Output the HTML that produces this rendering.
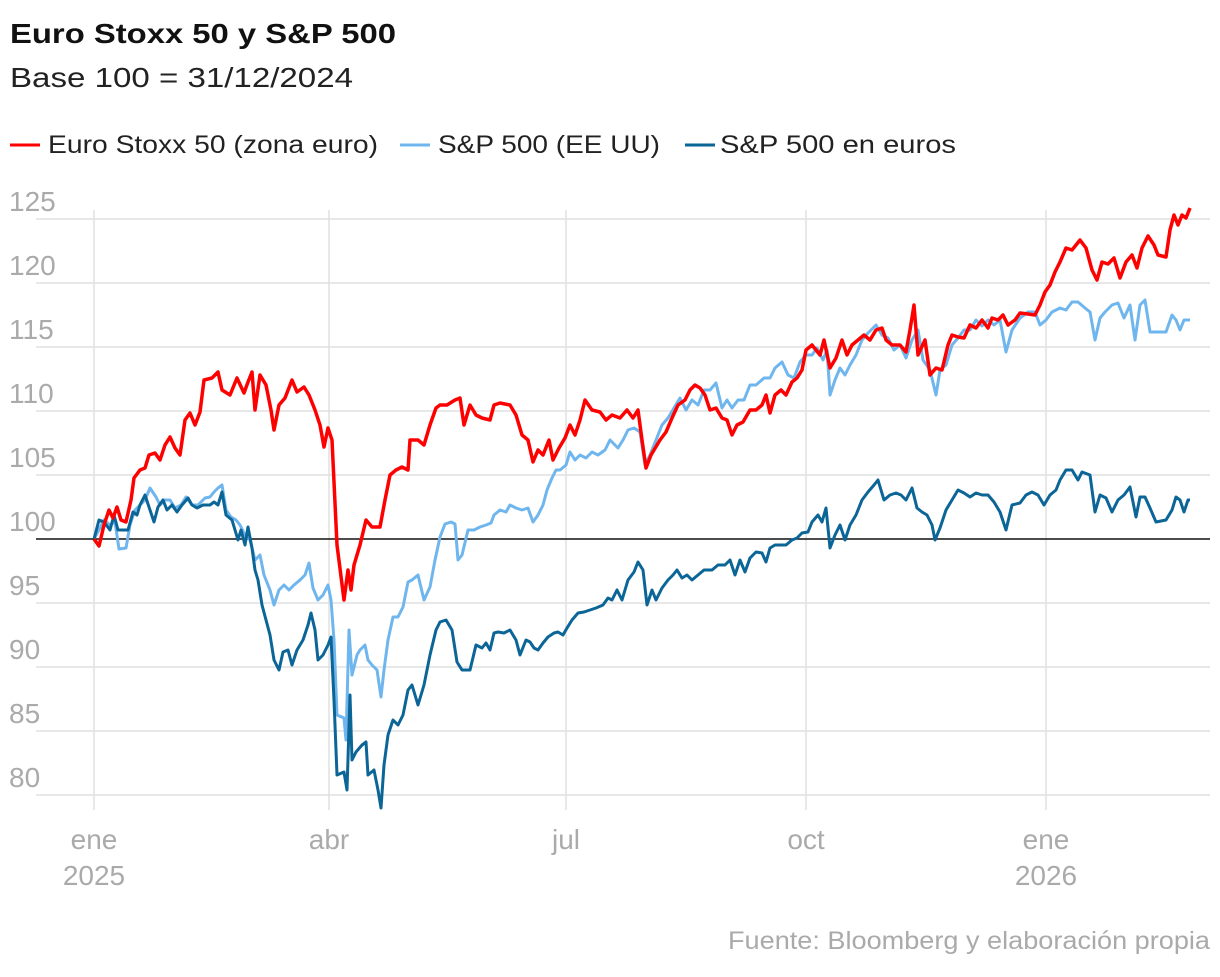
<!DOCTYPE html>
<html><head><meta charset="utf-8"><style>
body{margin:0;background:#fff;width:1220px;height:972px;overflow:hidden;font-family:"Liberation Sans",sans-serif}
</style></head><body>
<svg width="1220" height="972" xmlns="http://www.w3.org/2000/svg" font-family="Liberation Sans, sans-serif">
<text x="10" y="43" font-size="28" font-weight="bold" fill="#111" textLength="386" lengthAdjust="spacingAndGlyphs">Euro Stoxx 50 y S&amp;P 500</text>
<text x="10" y="87" font-size="28" fill="#222" textLength="343" lengthAdjust="spacingAndGlyphs">Base 100 = 31/12/2024</text>
<g font-size="25" fill="#222">
<line x1="10" y1="145" x2="40" y2="145" stroke="#ff0000" stroke-width="3"/><text x="48" y="153" textLength="330" lengthAdjust="spacingAndGlyphs">Euro Stoxx 50 (zona euro)</text>
<line x1="400" y1="145" x2="430" y2="145" stroke="#6fb6ee" stroke-width="3"/><text x="438" y="153" textLength="222" lengthAdjust="spacingAndGlyphs">S&amp;P 500 (EE UU)</text>
<line x1="685" y1="145" x2="715" y2="145" stroke="#0b6597" stroke-width="3"/><text x="720" y="153" textLength="236" lengthAdjust="spacingAndGlyphs">S&amp;P 500 en euros</text>
</g>
<g stroke="#e0e0e0" stroke-width="1.5">
<line x1="36" y1="219" x2="1210" y2="219"/><line x1="36" y1="283" x2="1210" y2="283"/><line x1="36" y1="347" x2="1210" y2="347"/><line x1="36" y1="411" x2="1210" y2="411"/><line x1="36" y1="475" x2="1210" y2="475"/><line x1="36" y1="603" x2="1210" y2="603"/><line x1="36" y1="667" x2="1210" y2="667"/><line x1="36" y1="731" x2="1210" y2="731"/><line x1="36" y1="795" x2="1210" y2="795"/>
<line x1="94" y1="210" x2="94" y2="810"/><line x1="329" y1="210" x2="329" y2="810"/><line x1="566" y1="210" x2="566" y2="810"/><line x1="806" y1="210" x2="806" y2="810"/><line x1="1046" y1="210" x2="1046" y2="810"/>
</g>
<g font-size="28" fill="#aaa">
<text x="9" y="211">125</text><text x="9" y="275">120</text><text x="9" y="339">115</text><text x="9" y="403">110</text><text x="9" y="467">105</text><text x="9" y="531">100</text><text x="9" y="595">95</text><text x="9" y="659">90</text><text x="9" y="723">85</text><text x="9" y="787">80</text>
</g>
<g font-size="28" fill="#aaa" text-anchor="middle">
<text x="94" y="849">ene</text><text x="94" y="885">2025</text><text x="329" y="849">abr</text><text x="566" y="849">jul</text><text x="806" y="849">oct</text><text x="1046" y="849">ene</text><text x="1046" y="885">2026</text>
</g>
<line x1="36" y1="539" x2="1210" y2="539" stroke="#111" stroke-width="1.5"/>
<g fill="none" stroke-width="3" stroke-linejoin="round">
<polyline stroke="#6fb6ee" points="94,539 99,530 104,520 110,525 115,522 119,549 126,548 130,525 135,510 140,505 145,500 150,488 156,497 160,505 165,500 170,500 175,508 181,505 186,497 192,505 198,505 205,498 210,497 214,492 218,488 222,485 226,510 231,517 236,520 240,525 245,535 250,540 255,560 260,555 264,575 270,590 274,605 279,590 284,585 289,590 294,585 300,580 305,575 309,563 313,588 318,600 323,595 328,585 331,600 334,640 337,715 344,718 346,740 349,630 352,675 357,655 360,650 365,645 368,660 372,665 377,670 381,697 384,670 388,640 393,617 398,617 403,607 408,582 412,580 418,575 424,600 430,587 435,560 440,537 445,524 451,522 455,524 458,560 462,555 468,530 474,530 480,527 486,525 491,523 494,515 500,510 506,512 510,505 516,508 522,510 528,508 533,522 538,515 543,505 547,490 552,478 556,470 560,470 566,465 570,452 575,460 580,455 586,458 592,452 598,455 605,450 610,440 618,448 623,440 628,430 634,428 640,432 645,465 650,455 656,440 662,425 668,418 674,408 680,398 686,410 692,400 698,405 704,390 710,390 716,383 722,408 727,400 732,408 738,400 744,400 750,385 756,385 764,378 770,378 775,368 782,362 788,375 794,378 800,362 806,355 812,355 817,348 823,360 827,350 830,395 835,380 840,368 845,375 850,365 856,355 862,340 868,333 876,325 882,335 888,338 894,350 900,345 906,358 912,340 918,330 923,360 930,370 936,395 940,370 946,365 952,345 958,338 964,330 970,330 976,320 982,326 988,320 994,325 1000,320 1006,352 1012,330 1020,318 1028,312 1035,312 1040,325 1046,320 1052,312 1060,308 1066,310 1072,302 1078,302 1085,308 1090,312 1095,340 1100,318 1105,312 1112,305 1118,303 1124,318 1130,305 1135,340 1140,305 1145,300 1150,332 1160,332 1166,332 1172,315 1176,320 1180,330 1184,320 1190,320"/>
<polyline stroke="#0b6597" points="94,539 99,520 104,522 110,530 114,515 118,530 123,530 128,530 133,512 137,515 140,505 145,495 150,510 154,522 158,507 163,500 167,510 172,505 177,512 182,505 188,498 192,505 197,508 203,505 210,505 214,502 218,505 222,492 226,515 232,520 238,540 241,530 245,545 248,527 252,548 255,570 258,580 262,605 266,620 270,635 274,660 279,670 283,652 288,650 292,665 297,650 303,640 308,625 311,613 315,630 318,660 323,655 328,645 331,637 334,700 337,775 344,772 347,790 350,695 352,760 356,752 362,745 366,742 368,775 374,770 378,790 381,808 384,765 388,735 393,720 398,725 403,715 408,690 412,685 418,705 424,685 430,655 436,630 440,622 446,620 452,630 457,662 462,670 470,670 476,645 482,648 486,643 490,650 494,633 498,632 504,633 510,630 516,640 520,655 526,640 530,642 534,648 538,650 543,643 548,637 554,633 558,632 563,635 567,628 572,620 578,613 584,612 590,610 596,608 603,605 608,598 612,600 617,590 622,600 628,580 634,572 638,562 643,570 647,605 652,590 656,600 662,588 668,580 673,575 677,570 682,578 687,575 692,580 698,575 704,570 712,570 718,565 725,565 730,560 735,575 740,560 745,572 750,558 756,552 762,553 766,562 770,548 775,545 780,545 786,545 792,540 797,538 802,533 808,532 812,522 818,515 822,522 826,508 830,548 835,535 840,525 845,540 850,525 856,515 862,500 868,492 874,485 878,480 884,500 890,495 896,493 901,495 906,500 912,488 917,508 922,512 927,515 932,525 935,540 940,528 946,510 952,500 958,490 964,493 970,497 976,493 982,495 988,495 994,502 1000,512 1006,530 1012,505 1020,503 1026,495 1032,492 1038,495 1044,505 1050,495 1056,490 1060,480 1066,470 1072,470 1078,480 1082,472 1090,475 1095,512 1100,495 1106,498 1112,512 1118,500 1124,495 1130,487 1136,517 1140,497 1145,497 1150,508 1156,522 1166,520 1172,510 1176,497 1180,500 1184,512 1188,500 1190,500"/>
<polyline stroke="#ff0000" stroke-width="3.5" points="94,539 99,546 104,525 109,510 113,518 117,507 121,520 126,522 131,500 134,478 140,470 145,468 149,455 155,453 160,460 165,445 170,437 175,448 180,455 185,420 190,413 195,425 200,412 204,380 212,378 218,372 222,390 230,395 237,378 244,393 248,382 252,372 255,410 260,375 266,385 271,410 274,430 279,405 285,398 292,380 297,392 304,387 309,395 315,410 320,425 324,447 328,428 332,440 337,545 344,600 348,570 351,590 354,565 360,545 366,520 372,527 380,527 385,500 390,475 396,470 402,467 408,470 410,440 418,440 424,445 430,425 436,408 440,405 447,405 455,400 460,398 464,425 470,405 476,415 482,418 490,420 494,405 500,403 510,405 516,415 522,435 528,440 533,462 538,450 543,455 549,440 553,460 559,448 565,438 570,425 575,435 580,420 585,400 592,410 600,412 606,420 612,415 620,418 627,410 633,418 638,410 642,440 646,468 651,455 660,440 666,432 672,418 678,405 685,400 690,390 695,385 700,388 705,395 710,410 716,408 722,418 727,420 732,435 737,425 743,422 750,410 756,410 762,405 766,395 770,413 775,395 781,390 786,395 792,382 797,378 802,370 806,350 812,345 820,355 824,340 830,368 836,358 842,340 847,355 852,345 858,340 864,335 870,340 876,330 882,328 886,340 892,345 900,345 906,352 910,330 914,305 918,355 925,340 930,375 936,368 942,370 948,345 952,335 958,337 964,338 970,325 976,328 982,320 988,328 992,318 998,320 1003,315 1008,325 1015,320 1020,313 1028,314 1035,315 1040,305 1045,292 1050,285 1055,272 1060,262 1066,248 1072,250 1080,240 1086,248 1092,270 1097,280 1102,262 1108,264 1114,258 1120,278 1126,262 1132,255 1137,268 1142,248 1148,236 1154,245 1158,255 1166,257 1170,230 1174,215 1178,225 1182,215 1186,218 1190,208"/>
</g>
<text x="1210" y="949" font-size="25" fill="#aaa" text-anchor="end" textLength="482" lengthAdjust="spacingAndGlyphs">Fuente: Bloomberg y elaboración propia</text>
</svg>
</body></html>
